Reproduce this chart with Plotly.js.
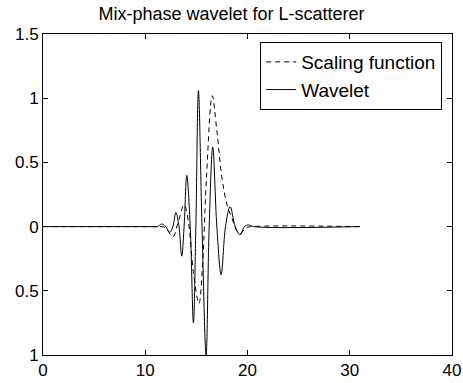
<!DOCTYPE html>
<html>
<head>
<meta charset="utf-8">
<script src="https://cdn.plot.ly/plotly-3.0.1.min.js"></script>
<style>html,body{margin:0;padding:0;background:#fff;}#chart{width:463px;height:383px;}</style>
</head>
<body>
<div id="chart"></div>
<script>
// Scaling function (dashed)
const scaleX = [0, 11, 11.6, 12.0, 12.7, 13.2, 13.8, 14.2, 14.7, 15.25, 15.6, 16.0, 16.55, 17.0, 17.5, 18.0, 18.5, 19.0, 19.3, 19.8, 20.5, 31];
const scaleY = [0, 0, 0.0, -0.01, -0.08, 0.03, 0.17, 0.05, -0.35, -0.6, -0.3, 0.4, 1.02, 0.75, 0.38, 0.17, 0.06, -0.04, -0.055, -0.01, 0, 0];
// Wavelet (solid)
const waveX = [0, 10.5, 11.2, 11.6, 12.0, 12.4, 12.7, 13.0, 13.3, 13.57, 13.8, 14.06, 14.4, 14.71, 14.95, 15.2, 15.55, 15.95, 16.25, 16.6, 17.0, 17.42, 17.85, 18.3, 18.8, 19.27, 19.7, 20.1, 20.6, 31];
const waveY = [0, 0, 0.0, 0.02, 0.0, -0.045, 0.0, 0.11, 0, -0.23, 0, 0.40, 0, -0.75, 0, 1.06, 0, -1.0, 0, 0.62, 0, -0.375, 0, 0.156, 0, -0.065, 0, 0.013, 0, 0];
const xTicks = [0, 10, 20, 30, 40];
const yTicks = [-1, -0.5, 0, 0.5, 1, 1.5];
const yTickText = ["1", "0.5", "0", "0.5", "1", "1.5"];
const seriesNames = ["Scaling function", "Wavelet"];
const chartTitle = "Mix-phase wavelet for L-scatterer";

const font = "Liberation Sans, Arial, Helvetica, sans-serif";
const traces = [
  {x: scaleX, y: scaleY, type: 'scatter', mode: 'lines', name: seriesNames[0],
   line: {color: '#000', width: 1, dash: '5px,4px', shape: 'spline', smoothing: 1}},
  {x: waveX, y: waveY, type: 'scatter', mode: 'lines', name: seriesNames[1],
   line: {color: '#000', width: 1, shape: 'spline', smoothing: 1}}
];
const axisCommon = {showgrid: false, zeroline: false, showline: true, linecolor: '#000', linewidth: 1,
  mirror: 'ticks', ticks: 'inside', ticklen: 5, tickcolor: '#000', tickfont: {family: font, size: 17, color: '#000'}};
const layout = {
  width: 463, height: 383,
  margin: {l: 43, r: 11, t: 34, b: 28},
  paper_bgcolor: '#fff', plot_bgcolor: '#fff',
  title: {text: chartTitle, font: {family: font, size: 18, color: '#000'}, x: 0.5, xanchor: 'center', y: 0.963, yanchor: 'middle'},
  xaxis: Object.assign({}, axisCommon, {range: [0, 40], tickvals: xTicks, ticktext: xTicks.map(String)}),
  yaxis: Object.assign({}, axisCommon, {range: [-1, 1.5], tickvals: yTicks, ticktext: yTickText}),
  showlegend: true,
  legend: {x: 0.976, y: 0.975, xanchor: 'right', yanchor: 'top', bordercolor: '#000', borderwidth: 1,
    bgcolor: '#fff', font: {family: font, size: 19, color: '#000'}, tracegroupgap: 0}
};
Plotly.newPlot('chart', traces, layout, {staticPlot: true, displayModeBar: false});
</script>
</body>
</html>
